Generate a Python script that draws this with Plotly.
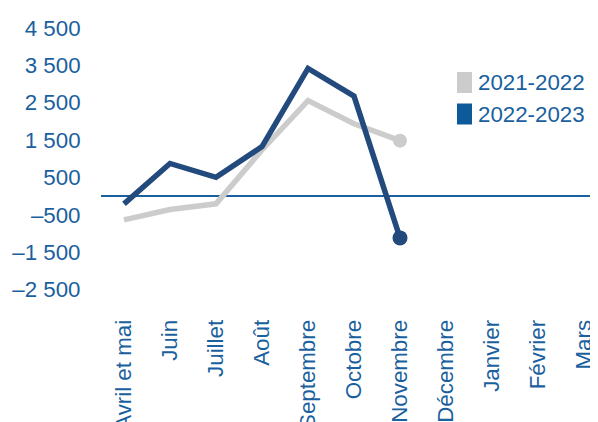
import plotly.graph_objects as go

months = ["Avril et mai", "Juin", "Juillet", "Août", "Septembre", "Octobre",
          "Novembre", "Décembre", "Janvier", "Février", "Mars"]
s2122 = [-640, -360, -210, 1230, 2550, 1930, 1480]
s2223 = [-210, 870, 500, 1320, 3410, 2670, -1120]
ytick_vals = [-2500, -1500, -500, 500, 1500, 2500, 3500, 4500]
ytick_text = ["–2 500", "–1 500", "–500", "500", "1 500", "2 500", "3 500", "4 500"]
legend_names = ["2021-2022", "2022-2023"]

TXT = "#1a5f9e"
GRAY = "#cccccc"
NAVY = "#224a7c"
LEG_BLUE = "#0d5a9b"
FONT = "Liberation Sans, Arial, sans-serif"
FS = 22.3

# the page body adds an 8px offset; work in window pixels and subtract it
OFF = 8
W, H = 598 - OFF, 422 - OFF
L, R, T, B = 101 - OFF, 598 - OFF, 10 - OFF, 308 - OFF


def px(xp):
    return (xp - OFF - L) / (R - L)


def py(yp):
    return (B - (yp - OFF)) / (B - T)


fig = go.Figure()

n1 = len(s2122)
fig.add_trace(go.Scatter(
    x=months[:n1], y=s2122, mode="lines",
    line=dict(color=GRAY, width=5.5),
    showlegend=False, hoverinfo="skip"))
fig.add_trace(go.Scatter(
    x=months[n1 - 1:n1], y=s2122[-1:], mode="markers",
    marker=dict(color=GRAY, size=14, opacity=1, line=dict(width=0)),
    showlegend=False, hoverinfo="skip"))

n2 = len(s2223)
fig.add_trace(go.Scatter(
    x=months[:n2], y=s2223, mode="lines",
    line=dict(color=NAVY, width=5.5),
    showlegend=False, hoverinfo="skip"))
fig.add_trace(go.Scatter(
    x=months[n2 - 1:n2], y=s2223[-1:], mode="markers",
    marker=dict(color=NAVY, size=15, opacity=1, line=dict(width=0)),
    showlegend=False, hoverinfo="skip"))

# legend drawn as swatches + text
shapes = []
annotations = []
leg_colors = [GRAY, LEG_BLUE]
for i, (name, col) in enumerate(zip(legend_names, leg_colors)):
    top = 72 + i * 31.5
    shapes.append(dict(type="rect", xref="paper", yref="paper",
                       x0=px(457), x1=px(472), y0=py(top + 21), y1=py(top),
                       fillcolor=col, line=dict(width=0)))
    annotations.append(dict(x=px(476), y=py(top + 10.5), xref="paper", yref="paper",
                            text=name, showarrow=False, xanchor="left",
                            yanchor="middle", font=dict(size=FS, color=TXT)))

fig.update_layout(
    width=W, height=H, autosize=False,
    margin=dict(l=L, r=W - R, t=T, b=H - B, autoexpand=False),
    plot_bgcolor="white", paper_bgcolor="white",
    font=dict(family=FONT, size=FS, color=TXT),
    showlegend=False,
    shapes=shapes, annotations=annotations,
    xaxis=dict(type="category", categoryarray=months, categoryorder="array",
               range=[-0.5, 10.304], showgrid=False, showline=False,
               zeroline=False, tickangle=-90, automargin=False,
               ticks="outside", ticklen=2, tickcolor="rgba(0,0,0,0)",
               fixedrange=True),
    yaxis=dict(range=[-2995, 4973], tickvals=ytick_vals, ticktext=ytick_text,
               showgrid=False, showline=False, zeroline=True,
               zerolinecolor=TXT, zerolinewidth=1.5, automargin=False,
               ticks="outside", ticklen=15, tickcolor="rgba(0,0,0,0)"),
)

fig.write_html("out.html")
